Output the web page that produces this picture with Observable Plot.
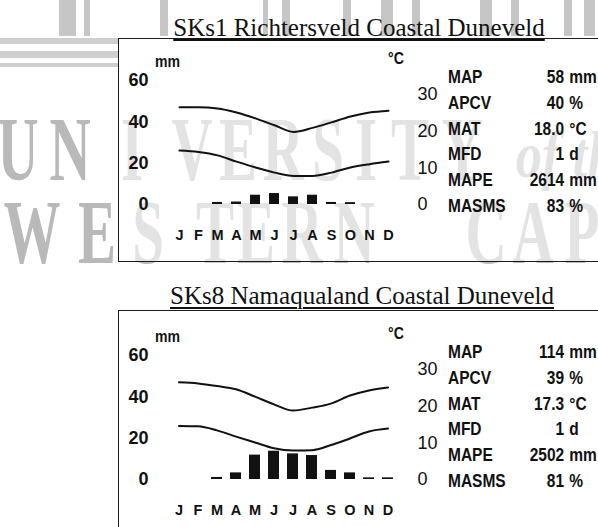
<!DOCTYPE html>
<html>
<head>
<meta charset="utf-8">
<script src="https://cdn.jsdelivr.net/npm/d3@7"></script>
<script src="https://cdn.jsdelivr.net/npm/@observablehq/plot@0.6"></script>
<style>
  html, body { margin: 0; padding: 0; background: #fff; }
  #page { position: relative; width: 598px; height: 527px; overflow: hidden; background: #fff;
          font-family: "Liberation Sans", Arial, Helvetica, sans-serif; color: #111; }
  .wm { position: absolute; font-family: "Liberation Serif", "Times New Roman", serif; color: #b9b9b9;
        line-height: 1; white-space: nowrap; font-weight: bold; }
  .wm span { position: absolute; display: block; transform: translateX(-50%) scaleX(0.62); }
  .col { position: absolute; background: #c6c6c6; }
  .band { position: absolute; background: #cfcfcf; }
  .title { position: absolute; font-family: "Liberation Serif", "Times New Roman", serif; font-size: 25px;
           line-height: 25px; white-space: nowrap; transform: translateX(-50%); color: #111;
           text-decoration: underline; text-decoration-thickness: 1.5px; }
  .box { position: absolute; border: 1.6px solid #1a1a1a; background: rgba(255,255,255,0.6); box-sizing: border-box; }
  .unit { position: absolute; font-weight: bold; font-size: 16px; line-height: 16px;
          transform: scaleX(0.88); transform-origin: left center; }
  .stats { position: absolute; left: 448px; display: grid; grid-template-columns: 77px 58px auto;
           font-weight: bold; font-size: 18px; transform: scaleX(0.86); transform-origin: left top; }
  .stats div { height: 25.8px; line-height: 25.8px; white-space: nowrap; }
  .stats .num { text-align: right; }
  .stats .u { padding-left: 6px; }
  .plotwrap { position: absolute; left: 0; }
</style>
</head>
<body>
<div id="page"></div>
<script>
// ---------- data ----------
const monthKeys = ["Jan","Feb","Mar","Apr","May","Jun","Jul","Aug","Sep","Oct","Nov","Dec"];
const monthLetters = ["J","F","M","A","M","J","J","A","S","O","N","D"];

const titleSKs1 = "SKs1 Richtersveld Coastal Duneveld";
const rainSKs1 = [0, 0, 1.0, 1.2, 4.5, 5.3, 3.7, 4.5, 1.0, 0.9, 0, 0];          // mm
const tmaxSKs1 = [26.5, 26.5, 26.2, 25.1, 23.5, 21.6, 19.8, 20.9, 22.4, 24.0, 25.1, 25.6]; // °C
const tminSKs1 = [14.7, 14.3, 13.4, 11.7, 10.1, 8.7, 7.8, 7.8, 8.7, 10.1, 11.0, 11.7];     // °C
const statValuesSKs1 = ["58", "40", "18.0", "1", "2614", "83"];

const titleSKs8 = "SKs8 Namaqualand Coastal Duneveld";
const rainSKs8 = [0, 0, 1.0, 3.2, 11.8, 13.7, 12.4, 11.6, 4.4, 3.2, 0.8, 0.8];
const tmaxSKs8 = [26.5, 26.2, 25.5, 24.6, 22.6, 20.5, 18.8, 19.6, 20.7, 22.9, 24.3, 25.1];
const tminSKs8 = [14.6, 14.5, 13.4, 11.7, 10.1, 8.5, 7.9, 8.0, 9.4, 11.2, 13.1, 13.9];
const statValuesSKs8 = ["114", "39", "17.3", "1", "2502", "81"];

const statLabels = ["MAP", "APCV", "MAT", "MFD", "MAPE", "MASMS"];
const statUnits = ["mm", "%", "°C", "d", "mm", "%"];

const mmTicks = [0, 20, 40, 60];
const tempTicks = [0, 10, 20, 30];
const mmPerDegree = 1.774;   // right (°C) axis relative to the left (mm) axis

// watermark (background of the scanned page)
const wmRow1 = ["U","N","I","V","E","R","S","I","T","Y"];
const wmRow1X = [18, 70, 132, 192, 238, 283, 328, 366, 410, 462];
const wmRow2 = ["W","E","S","T","E","R","N","C","A","P","E"];
const wmRow2X = [32, 97, 148, 215, 256, 302, 354, 486, 533, 582, 630];
const wmColumnsX = [59, 84, 160, 263, 282, 343, 381, 412, 480, 511, 564, 584];
const wmColumnsW = [17, 6, 8, 5, 8, 8, 12, 8, 12, 8, 8, 11];

// ---------- page ----------
const page = document.getElementById("page");
function el(cls, css, text) {
  const d = document.createElement("div");
  d.className = cls;
  Object.assign(d.style, css);
  if (text != null) d.textContent = text;
  page.appendChild(d);
  return d;
}

// watermark
wmColumnsX.forEach((x, i) => el("col", {left: x + "px", top: "0px", width: wmColumnsW[i] + "px", height: "36px"}));
[[38, 6], [51, 7], [63, 4]].forEach(([t, h]) => el("band", {left: "0px", top: t + "px", width: "118px", height: h + "px"}));
const wm1 = el("wm", {left: "0px", top: "0px", fontSize: "92px"});
wmRow1.forEach((c, i) => { const s = document.createElement("span"); s.textContent = c; s.style.left = wmRow1X[i] + "px"; s.style.top = "103px"; wm1.appendChild(s); });
const of = document.createElement("span"); of.textContent = "of the"; of.style.left = "578px"; of.style.top = "122px";
of.style.fontStyle = "italic"; of.style.fontSize = "66px"; of.style.transform = "translateX(-50%) scaleX(0.8)"; wm1.appendChild(of);
const wm2 = el("wm", {left: "0px", top: "0px", fontSize: "92px"});
wmRow2.forEach((c, i) => { const s = document.createElement("span"); s.textContent = c; s.style.left = wmRow2X[i] + "px"; s.style.top = "186px"; wm2.appendChild(s); });

function panel(title, rain, tmax, tmin, values, dy, titleX, titleTop, boxTop, boxH, barPad) {
  el("box", {left: "118px", top: boxTop + "px", width: "520px", height: boxH + "px"});
  el("title", {left: titleX + "px", top: titleTop + "px", textUnderlineOffset: "3px"}, title);

  const data = monthKeys.map((m, i) => ({m, rain: rain[i], tmax: tmax[i] * mmPerDegree, tmin: tmin[i] * mmPerDegree}));
  const font = '"Liberation Sans", Arial, Helvetica, sans-serif';
  const svg = Plot.plot({
    width: 598, height: 270,
    marginTop: 80, marginBottom: 66, marginLeft: 151, marginRight: 184,
    insetLeft: 17.5, insetRight: 16.3,
    style: {background: "transparent", fontFamily: font, color: "#111", overflow: "visible"},
    x: {type: "band", domain: monthKeys, paddingInner: barPad, paddingOuter: barPad / 2},
    y: {domain: [0, 60]},
    marks: [
      Plot.barY(data, {x: "m", y: "rain", fill: "#111"}),
      Plot.line(data, {x: "m", y: "tmax", curve: "monotone-x", stroke: "#111", strokeWidth: 2}),
      Plot.line(data, {x: "m", y: "tmin", curve: "monotone-x", stroke: "#111", strokeWidth: 2}),
      Plot.axisY(mmTicks, {anchor: "left", tickSize: 0, tickPadding: 3, label: null,
        fontSize: 18, fontWeight: "bold", tickFormat: d => String(d)}),
      Plot.axisY(tempTicks.map(t => t * mmPerDegree), {anchor: "right", tickSize: 0, tickPadding: 3, label: null,
        fontSize: 18, tickFormat: d => String(Math.round(d / mmPerDegree))}),
      Plot.axisX(monthKeys, {anchor: "bottom", tickSize: 0, tickPadding: 25, label: null,
        fontSize: 14.5, fontWeight: "bold", tickFormat: d => monthLetters[monthKeys.indexOf(d)]})
    ]
  });
  const wrap = el("plotwrap", {top: dy + "px"});
  wrap.appendChild(svg);

  el("unit", {left: "155px", top: (54 + dy) + "px"}, "mm");
  el("unit", {left: "388px", top: (51 + dy) + "px"}, "°C");

  const st = el("stats", {top: (65.1 + dy) + "px"});
  statLabels.forEach((lab, i) => {
    const a = document.createElement("div"); a.textContent = lab; st.appendChild(a);
    const b = document.createElement("div"); b.className = "num"; b.textContent = values[i]; st.appendChild(b);
    const c = document.createElement("div"); c.className = "u"; c.textContent = statUnits[i]; st.appendChild(c);
  });
}

panel(titleSKs1, rainSKs1, tmaxSKs1, tminSKs1, statValuesSKs1, 0, 359, 15, 38, 224, 0.5);
panel(titleSKs8, rainSKs8, tmaxSKs8, tminSKs8, statValuesSKs8, 275, 362, 283, 310, 260, 0.4);
</script>
</body>
</html>
